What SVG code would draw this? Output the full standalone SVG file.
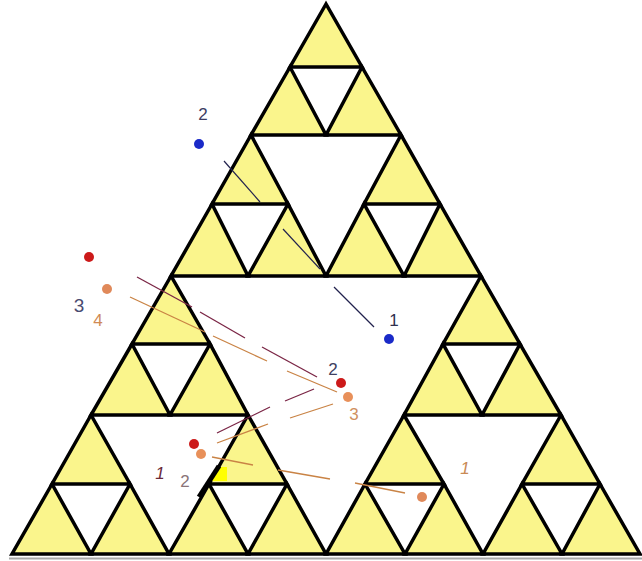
<svg xmlns="http://www.w3.org/2000/svg" width="642" height="561" viewBox="0 0 642 561">
<style>
.t{fill:#FAF58C;stroke:#000;stroke-width:3.5;stroke-linejoin:miter}
.mar{stroke:#7a2545;stroke-width:1.3;fill:none}
.tan{stroke:#c98345;stroke-width:1.3;fill:none}
.blu{stroke:#22224e;stroke-width:1.2;fill:none}
.lbl{font-family:"Liberation Sans",Arial,sans-serif;font-size:17px;text-anchor:middle}
</style>
<rect width="642" height="561" fill="#fff"/>
<line x1="9" y1="558.5" x2="642" y2="558.5" stroke="#a8a8a8" stroke-width="2"/>
<g id="sierpinski">
<polygon class="t" points="326,4 290,67 362,67"/>
<polygon class="t" points="290,67 251,135 326,135"/>
<polygon class="t" points="362,67 326,135 401,135"/>
<polygon class="t" points="251,135 212,204 288,204"/>
<polygon class="t" points="401,135 364,204 440,204"/>
<polygon class="t" points="212,204 171,276 248,276"/>
<polygon class="t" points="288,204 248,276 326,276"/>
<polygon class="t" points="364,204 326,276 404,276"/>
<polygon class="t" points="440,204 404,276 481,276"/>
<polygon class="t" points="171,276 132,344 210,344"/>
<polygon class="t" points="481,276 443,344 520,344"/>
<polygon class="t" points="132,344 91,415 170,415"/>
<polygon class="t" points="210,344 170,415 248,415"/>
<polygon class="t" points="443,344 404,415 482,415"/>
<polygon class="t" points="520,344 482,415 561,415"/>
<polygon class="t" points="91,415 52,484 130,484"/>
<polygon class="t" points="248,415 209,484 287,484"/>
<polygon class="t" points="404,415 365,484 444,484"/>
<polygon class="t" points="561,415 522,484 600,484"/>
<polygon class="t" points="52,484 12,554 91,554"/>
<polygon class="t" points="130,484 91,554 169,554"/>
<polygon class="t" points="209,484 169,554 248,554"/>
<polygon class="t" points="287,484 248,554 326,554"/>
<polygon class="t" points="365,484 326,554 405,554"/>
<polygon class="t" points="444,484 405,554 483,554"/>
<polygon class="t" points="522,484 483,554 562,554"/>
<polygon class="t" points="600,484 562,554 640,554"/>
</g>
<g id="mark">
<polygon points="219,467 227,467 227,481 211,481" fill="#ffff00"/>
<line x1="219" y1="466" x2="199" y2="497" stroke="#000" stroke-width="5"/>
</g>
<g id="connectors">
<g class="blu">
<line x1="224" y1="161" x2="260" y2="202"/>
<line x1="283" y1="229" x2="320" y2="269"/>
<line x1="334" y1="287" x2="374" y2="327"/>
</g>
<g class="mar">
<line x1="137" y1="277" x2="192" y2="307"/>
<line x1="200" y1="312" x2="245" y2="338"/>
<line x1="262" y1="347" x2="317" y2="377"/>
<line x1="217" y1="433" x2="270" y2="407"/>
<line x1="285" y1="401" x2="314" y2="389"/>
</g>
<g class="tan">
<line x1="130" y1="297" x2="205" y2="332"/>
<line x1="213" y1="336" x2="267" y2="361"/>
<line x1="287" y1="371" x2="337" y2="392"/>
<line x1="217" y1="443" x2="268" y2="424"/>
<line x1="290" y1="418" x2="333" y2="404"/>
<line x1="212" y1="457" x2="253" y2="465"/>
<line x1="278" y1="470" x2="330" y2="479"/>
<line x1="355" y1="483" x2="405" y2="493"/>
</g>
</g>
<g id="blue2"><circle cx="199" cy="144" r="5" fill="#1a2ac8"/><text class="lbl" x="203" y="120" fill="#3c3c62">2</text></g>
<g id="blue1"><circle cx="389" cy="339" r="5" fill="#1a2ac8"/><text class="lbl" x="394" y="326" fill="#30304e">1</text></g>
<g id="red3"><circle cx="89" cy="257" r="5" fill="#cc1a1a"/><text class="lbl" x="79" y="312" fill="#4a4a70" style="font-size:19px">3</text></g>
<g id="orange4"><circle cx="107" cy="289" r="5" fill="#e0895a"/><text class="lbl" x="98" y="326" fill="#d08a55">4</text></g>
<g id="red2"><circle cx="341" cy="383" r="5" fill="#cc1a1a"/><text class="lbl" x="333" y="375" fill="#404060">2</text></g>
<g id="orange3"><circle cx="348" cy="397" r="5" fill="#e8905a"/><text class="lbl" x="354" y="420" fill="#d09060">3</text></g>
<g id="red1"><circle cx="194" cy="444" r="5" fill="#cc1a1a"/><text class="lbl" x="160" y="479" fill="#6b2a3a" font-style="italic">1</text></g>
<g id="orange2"><circle cx="201" cy="454" r="5" fill="#e8905a"/><text class="lbl" x="185" y="487" fill="#8a7478">2</text></g>
<g id="orange1"><circle cx="422" cy="497" r="5" fill="#e0895a"/><text class="lbl" x="465" y="474" fill="#c98a55" font-style="italic">1</text></g>
</svg>
